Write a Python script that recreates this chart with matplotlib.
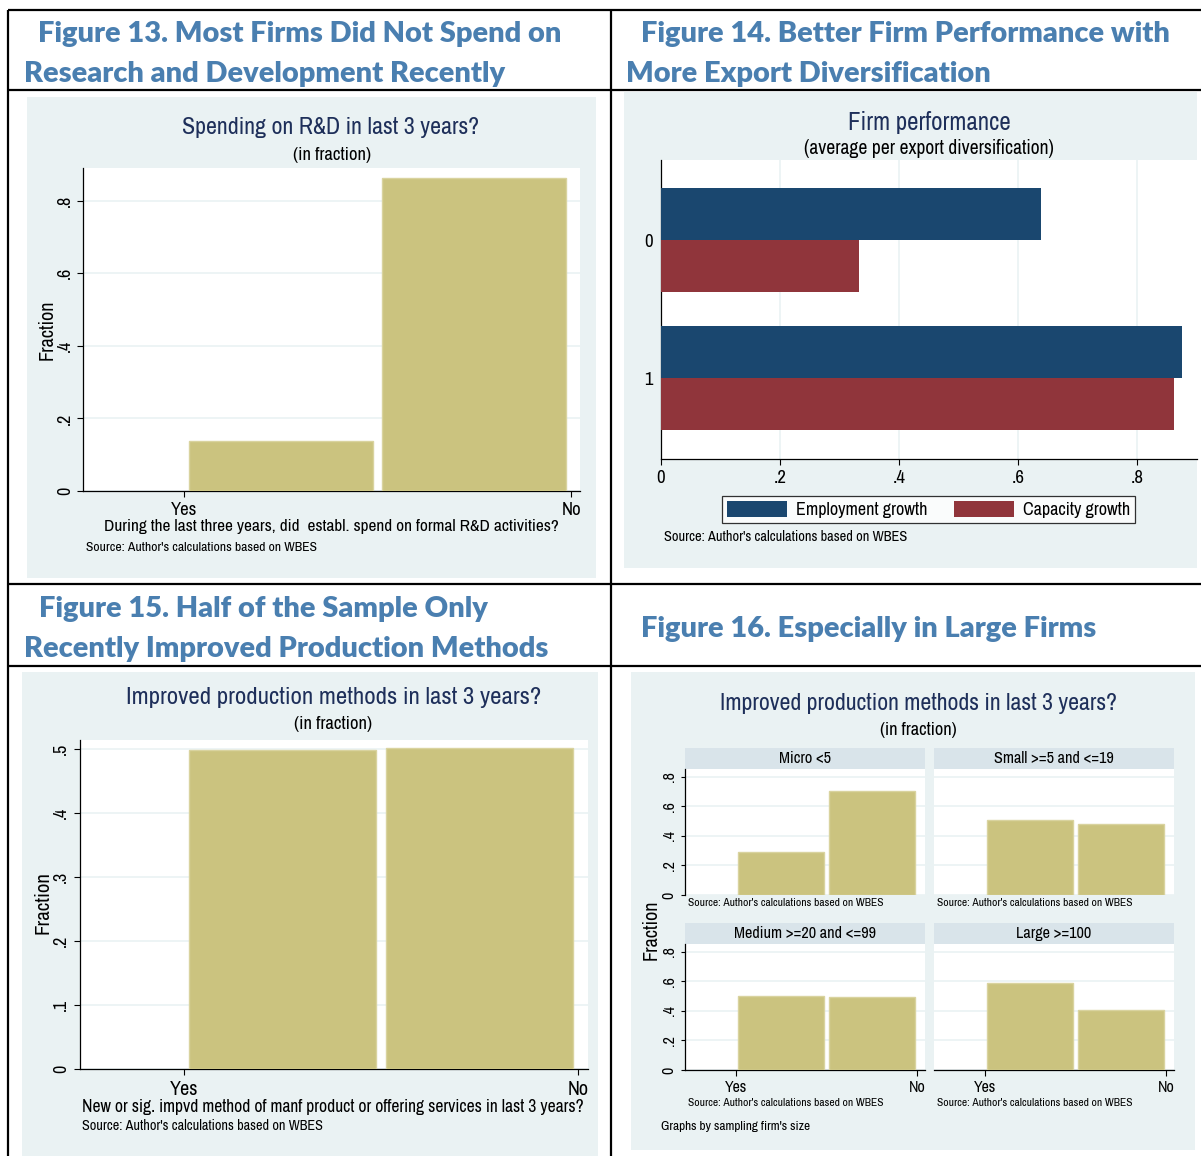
import matplotlib
matplotlib.use("Agg")
import matplotlib.pyplot as plt
import numpy as np
from matplotlib.patches import Rectangle
from matplotlib.lines import Line2D
from matplotlib import font_manager as fm

# ---------------- data ----------------
rd_categories = ["Yes", "No"]
rd_fraction = [0.137, 0.863]

perf_groups = ["0", "1"]
employment_growth = [0.639, 0.876]
capacity_growth = [0.333, 0.862]

improved_categories = ["Yes", "No"]
improved_fraction = [0.498, 0.502]

size_classes = ["Micro <5", "Small >=5 and <=19", "Medium >=20 and <=99", "Large >=100"]
micro_fraction = [0.293, 0.702]
small_fraction = [0.511, 0.481]
medium_fraction = [0.502, 0.495]
large_fraction = [0.591, 0.407]

headings = [
    "Figure 13. Most Firms Did Not Spend on", "Research and Development Recently",
    "Figure 14. Better Firm Performance with", "More Export Diversification",
    "Figure 15. Half of the Sample Only", "Recently Improved Production Methods",
    "Figure 16. Especially in Large Firms",
]
source_note = "Source: Author's calculations based on WBES"

# ---------------- style ----------------
W, H = 1201, 1156
BG = "#EAF2F3"
STRIP = "#D9E4EA"
GRID = "#EAF2F3"
KHAKI = "#CBC37F"
KHAKI_EDGE = "#D9D39F"
NAVY = "#1A476F"
MAROON = "#90353B"
TITLE_C = "#1E2F5A"
HEAD_C = "#4A7FB0"

# prefer a narrow / condensed sans (Stata's Arial Narrow look) if one is installed
cond_family = None
cond_stretch = "normal"
for f in fm.fontManager.ttflist:
    nm = f.name
    if ("Narrow" in nm or "Condensed" in nm) and "Mono" not in nm and "Serif" not in nm:
        cond_family = nm
        break
if cond_family is None:
    for f in fm.fontManager.ttflist:
        if str(f.stretch) in ("condensed", "semi-condensed", "500", "300") and "Mono" not in f.name \
                and "Serif" not in f.name:
            cond_family = f.name
            cond_stretch = f.stretch
            break
if cond_family is None:
    cond_family = "Liberation Sans"

plt.rcParams["font.family"] = [cond_family, "Liberation Sans", "DejaVu Sans"]
plt.rcParams["font.stretch"] = cond_stretch

fig = plt.figure(figsize=(W / 100, H / 100), dpi=100)
fig.patch.set_facecolor("white")


def fx(x):
    return x / W


def fy(y):
    return 1 - y / H


def add_ax(l, t, r, b):
    ax = fig.add_axes([fx(l), fy(b), (r - l) / W, (b - t) / H])
    ax.set_facecolor("white")
    return ax


def rect(l, t, r, b, color, z=-1):
    fig.patches.append(Rectangle((fx(l), fy(b)), (r - l) / W, (b - t) / H,
                                 transform=fig.transFigure, facecolor=color,
                                 edgecolor="none", zorder=z))


def ftext(x, y, s, **kw):
    return fig.text(fx(x), fy(y), s, **kw)


def hline(x0, x1, y):
    fig.add_artist(Line2D([fx(x0), fx(x1)], [fy(y), fy(y)], transform=fig.transFigure,
                          color="black", lw=1.6, solid_capstyle="butt"))


def vline(x, y0, y1):
    fig.add_artist(Line2D([fx(x), fx(x)], [fy(y0), fy(y1)], transform=fig.transFigure,
                          color="black", lw=1.6, solid_capstyle="butt"))


def sfmt(v):
    s = f"{v:g}"
    if s.startswith("0."):
        s = s[1:]
    return s


def style(ax, left=True, bottom=True, size=10):
    for s in ["top", "right"]:
        ax.spines[s].set_visible(False)
    ax.spines["left"].set_visible(left)
    ax.spines["bottom"].set_visible(bottom)
    for s in ["left", "bottom"]:
        ax.spines[s].set_color("black")
        ax.spines[s].set_linewidth(0.9)
    ax.tick_params(length=4, width=0.8, color="black", labelsize=size, pad=4)
    ax.set_axisbelow(True)


fits = []


def fit_later(t, width):
    fits.append((t, width))
    return t


# ---------------- table grid ----------------
hline(8, W, 10)
hline(8, W, 90)
hline(8, W, 584)
hline(8, W, 666)
vline(8, 10, H)
vline(611, 10, H)

# ---------------- headings ----------------
head_specs = [(38, 42, 528), (24, 82, 478), (641, 42, 527), (626, 82, 361),
              (39, 617, 452), (24, 657, 525), (641, 637, 457)]
head_texts = []
for (x, y, w), s in zip(head_specs, headings):
    t = ftext(x, y, s, ha="left", va="baseline", family=["Lato", "DejaVu Sans"],
              fontweight="heavy", fontstretch="normal", fontsize=19, color=HEAD_C)
    head_texts.append((t, w))

# ---------------- panel backgrounds ----------------
rect(27, 97, 596, 578, BG)
rect(624, 92, 1197, 568, BG)
rect(22, 672, 598, H, BG)
rect(631, 672, 1195, 1150, BG)


def hist_bars(ax, cats, vals, span=0.95):
    edges = np.linspace(0, 1, len(cats) + 1)
    centers = (edges[:-1] + edges[1:]) / 2
    widths = np.diff(edges) * span
    ax.bar(centers, vals, width=widths, color=KHAKI, edgecolor=KHAKI_EDGE,
           linewidth=1, zorder=3)
    ax.set_xticks([edges[0], edges[-1]], [cats[0], cats[-1]])


def yfrac_ticks(ax, ticks, show=True):
    ax.set_yticks(ticks, [sfmt(v) for v in ticks] if show else [""] * len(ticks))
    ax.yaxis.grid(True, color=GRID, lw=1.2)
    for lbl in ax.get_yticklabels():
        lbl.set_rotation(90)
        lbl.set_va("center")
        lbl.set_ha("right")


# ---------------- Panel A: Figure 13 ----------------
axA = add_ax(83, 168, 580, 491)
style(axA)
hist_bars(axA, rd_categories, rd_fraction)
axA.set_xlim(-0.261, 1.023)
axA.set_ylim(0, 0.89)
yfrac_ticks(axA, [0, .2, .4, .6, .8])
axA.tick_params(axis="y", pad=3, labelsize=13)
axA.tick_params(axis="x", pad=4, labelsize=13.5)
fit_later(ftext(331, 128, "Spending on R&D in last 3 years?", ha="center", va="center",
                fontsize=15, color=TITLE_C), 297)
fit_later(ftext(332, 155, "(in fraction)", ha="center", va="center", fontsize=11), 78)
ftext(47, 330, "Fraction", rotation=90, ha="center", va="center", fontsize=14.5)
fit_later(ftext(331, 527, "During the last three years, did  establ. spend on formal R&D activities?",
                ha="center", va="center", fontsize=11), 456)
fit_later(ftext(86, 548, source_note, ha="left", va="center", fontsize=8.5), 231)

# ---------------- Panel B: Figure 14 ----------------
axB = add_ax(661, 160, 1197, 459)
style(axB)
yb = np.arange(len(perf_groups))
hb = 0.377
axB.barh(yb - hb / 2, employment_growth, height=hb, color=NAVY, label="Employment growth", zorder=3)
axB.barh(yb + hb / 2, capacity_growth, height=hb, color=MAROON, label="Capacity growth", zorder=3)
axB.set_ylim(1.587, -0.58)
axB.set_xlim(0, 0.901)
xt = [0, .2, .4, .6, .8]
axB.set_xticks(xt, [sfmt(v) for v in xt])
axB.set_yticks(yb, perf_groups)
axB.xaxis.grid(True, color=GRID, lw=1.2)
axB.tick_params(axis="y", length=0, pad=6, labelsize=13.5)
axB.tick_params(axis="x", pad=4, labelsize=13.5)
leg = axB.legend(loc="center", bbox_to_anchor=(fx(928.5), fy(509.5)), bbox_transform=fig.transFigure,
                 ncol=2, frameon=True, fancybox=False, edgecolor="black", fontsize=13,
                 handlelength=3.3, handleheight=0.95, handletextpad=0.5, columnspacing=1.5,
                 borderpad=0.3, borderaxespad=0)
leg.get_frame().set_linewidth(0.9)
fit_later(ftext(929, 122, "Firm performance", ha="center", va="center", fontsize=15, color=TITLE_C), 163)
fit_later(ftext(929, 149, "(average per export diversification)", ha="center", va="center",
                fontsize=11), 251)
fit_later(ftext(664, 537, source_note, ha="left", va="center", fontsize=8.5), 244)

# ---------------- Panel C: Figure 15 ----------------
axC = add_ax(80, 740, 588, 1069)
style(axC)
hist_bars(axC, improved_categories, improved_fraction)
axC.set_xlim(-0.264, 1.025)
axC.set_ylim(0, 0.514)
yfrac_ticks(axC, [0, .1, .2, .3, .4, .5])
axC.tick_params(axis="y", pad=4, labelsize=13)
axC.tick_params(axis="x", pad=4, labelsize=14.5)
fit_later(ftext(334, 697, "Improved production methods in last 3 years?", ha="center", va="center",
                fontsize=15, color=TITLE_C), 415)
fit_later(ftext(333, 724, "(in fraction)", ha="center", va="center", fontsize=11), 78)
ftext(43, 903, "Fraction", rotation=90, ha="center", va="center", fontsize=15)
fit_later(ftext(333, 1107, "New or sig. impvd method of manf product or offering services in last 3 years?",
                ha="center", va="center", fontsize=11), 503)
fit_later(ftext(82, 1126, source_note, ha="left", va="center", fontsize=8.5), 241)

# ---------------- Panel D: Figure 16 ----------------
fit_later(ftext(918, 703, "Improved production methods in last 3 years?", ha="center", va="center",
                fontsize=15, color=TITLE_C), 398)
fit_later(ftext(918, 730, "(in fraction)", ha="center", va="center", fontsize=11), 77)
ftext(651, 930, "Fraction", rotation=90, ha="center", va="center", fontsize=14.5)
fit_later(ftext(661, 1126, "Graphs by sampling firm's size", ha="left", va="center", fontsize=8.5), 152)

facet_vals = [micro_fraction, small_fraction, medium_fraction, large_fraction]
col_lr = [(685, 925), (934, 1174)]
row_tb = [(769, 895), (944, 1070)]
strip_texts = []
for i, (name, vals) in enumerate(zip(size_classes, facet_vals)):
    r, c = divmod(i, 2)
    l, rr = col_lr[c]
    t, b = row_tb[r]
    ax = add_ax(l, t, rr, b)
    style(ax, left=(c == 0), bottom=(r == 1), size=11.5)
    hist_bars(ax, improved_categories, vals)
    ax.set_xlim(-0.282, 1.044)
    ax.set_ylim(0, 0.854)
    yfrac_ticks(ax, [0, .2, .4, .6, .8], show=(c == 0))
    ax.tick_params(axis="y", pad=3, labelsize=11.5, length=3)
    if c == 1:
        ax.tick_params(axis="y", length=0)
    if r == 0:
        ax.tick_params(axis="x", length=0, labelbottom=False)
    else:
        ax.tick_params(axis="x", labelsize=11.5, pad=3, length=4)
    rect(l, t - 21, rr, t, STRIP, z=-0.5)
    st = ftext((l + rr) / 2, t - 10.5, name, ha="center", va="center", fontsize=10)
    strip_texts.append(st)
    sy = 903 if r == 0 else 1103
    fit_later(ftext(l + 3, sy, source_note, ha="left", va="center", fontsize=7), 195)

# ---------------- fit text widths ----------------
fig.canvas.draw()
rend = fig.canvas.get_renderer()
for t, w in fits:
    bb = t.get_window_extent(rend)
    t.set_fontsize(t.get_fontsize() * w / bb.width)

scales = []
for t, w in head_texts:
    bb = t.get_window_extent(rend)
    scales.append(w / bb.width)
hs = float(np.median(scales))
for t, w in head_texts:
    t.set_fontsize(t.get_fontsize() * hs)

strip_w = [50, 120, 141, 76]
ss = float(np.median([w / st.get_window_extent(rend).width for st, w in zip(strip_texts, strip_w)]))
for st in strip_texts:
    st.set_fontsize(st.get_fontsize() * ss)

fig.savefig("out.png", dpi=100, facecolor="white")
